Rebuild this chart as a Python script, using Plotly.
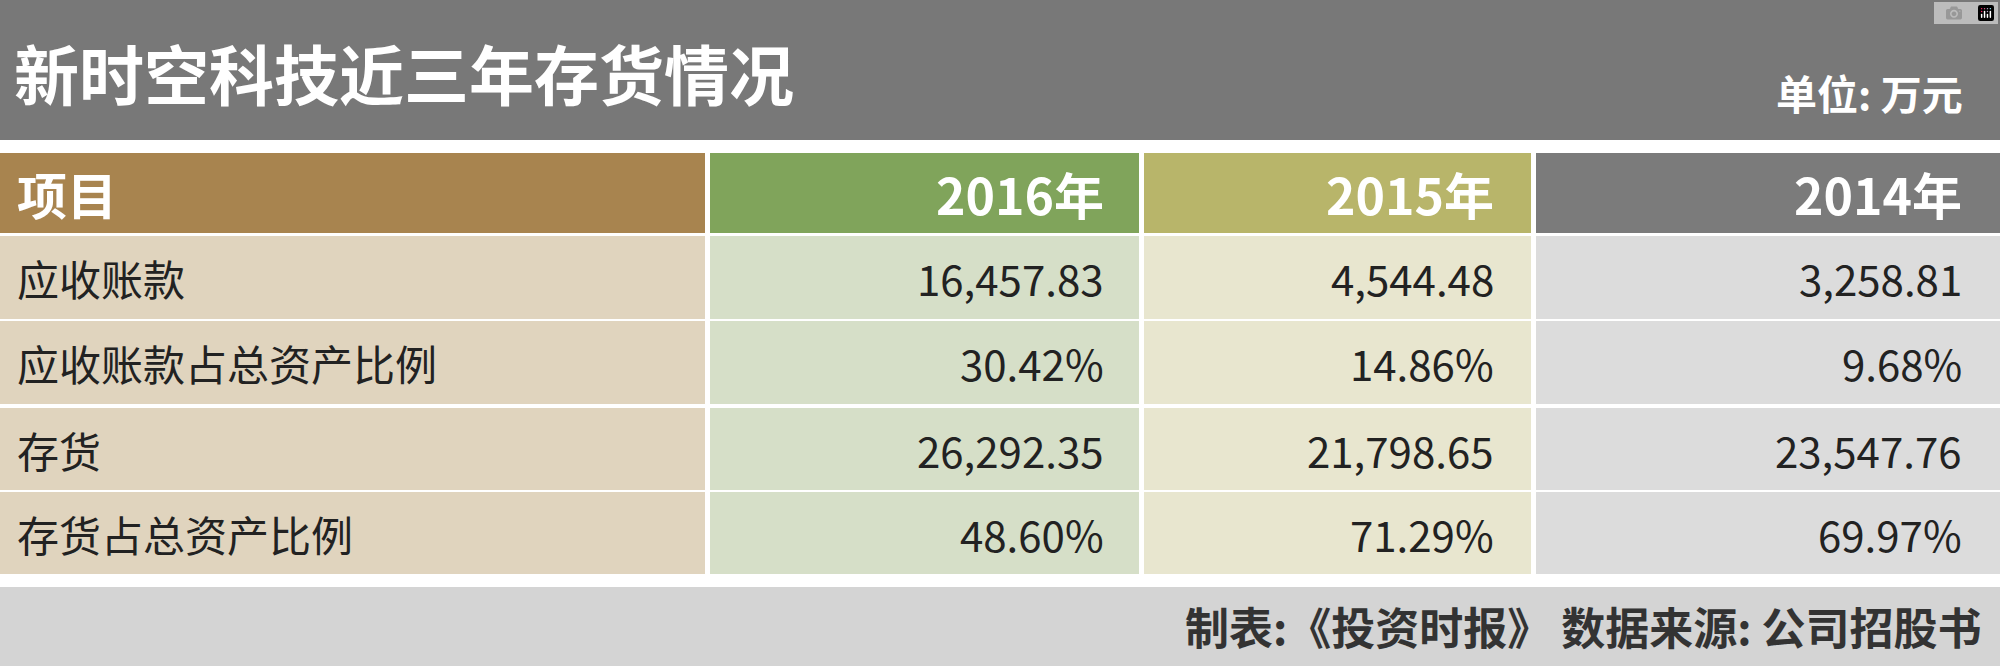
import plotly.graph_objects as go

title = "新时空科技近三年存货情况"
unit = "单位: 万元"
header = ["项目", "2016年", "2015年", "2014年"]
items = ["应收账款", "应收账款占总资产比例", "存货", "存货占总资产比例"]
v2016 = ["16,457.83", "30.42%", "26,292.35", "48.60%"]
v2015 = ["4,544.48", "14.86%", "21,798.65", "71.29%"]
v2014 = ["3,258.81", "9.68%", "23,547.76", "69.97%"]
source = "制表:《投资时报》 数据来源: 公司招股书"

FONT = "Noto Sans CJK SC"
col_x = [(0, 705), (710, 1139), (1144, 1531), (1536, 2000)]
head_y = (153, 233)
row_y = [(236, 319), (321, 404), (408, 490), (492, 574)]
head_col = ["#a8844f", "#80a45b", "#b8b56a", "#7b7b7b"]
body_col = ["#e0d4be", "#d6dfc8", "#e8e6cf", "#dcdcdc"]

fig = go.Figure()
shapes = []
ann = []
def rect(x0, x1, y0, y1, c):
    shapes.append(dict(type="rect", xref="x", yref="y", x0=x0, x1=x1, y0=y0, y1=y1,
                       fillcolor=c, line_width=0, layer="below"))
rect(0, 2000, 0, 140, "#787878")
rect(0, 2000, 587, 666, "#d4d4d4")
for j, (x0, x1) in enumerate(col_x):
    rect(x0, x1, *head_y, head_col[j])
    for (y0, y1) in row_y:
        rect(x0, x1, y0, y1, body_col[j])

ann.append(dict(x=12, y=72, text="<b>%s</b>" % title, xanchor="left", yanchor="middle",
                font=dict(size=65, color="white", family=FONT), showarrow=False))
ann.append(dict(x=1965, y=92, text="<b>%s</b>" % unit, xanchor="right", yanchor="middle",
                font=dict(size=41, color="white", family=FONT), showarrow=False))
ann.append(dict(x=1984, y=626, text="<b>%s</b>" % source, xanchor="right", yanchor="middle",
                font=dict(size=44, color="#333333", family=FONT), showarrow=False))
hx = [15, 1106, 1496, 1964]
for j, h in enumerate(header):
    ann.append(dict(x=hx[j], y=sum(head_y) / 2, text="<b>%s</b>" % h,
                    xanchor="left" if j == 0 else "right", yanchor="middle",
                    font=dict(size=50, color="white", family=FONT), showarrow=False))
cols = [items, v2016, v2015, v2014]
for j, col in enumerate(cols):
    for i, t in enumerate(col):
        ann.append(dict(x=hx[j], y=sum(row_y[i]) / 2, text=t,
                        xanchor="left" if j == 0 else "right", yanchor="middle",
                        font=dict(size=42, color="#222222", family=FONT), showarrow=False))

fig.update_layout(width=2000, height=666, margin=dict(l=0, r=0, t=0, b=0),
                  paper_bgcolor="white", plot_bgcolor="white",
                  shapes=shapes, annotations=ann, showlegend=False,
                  xaxis=dict(range=[0, 2000], visible=False, fixedrange=True),
                  yaxis=dict(range=[666, 0], visible=False, fixedrange=True))
fig.write_html("out.html", post_script="document.body.style.margin='0';document.body.style.overflow='hidden';")
